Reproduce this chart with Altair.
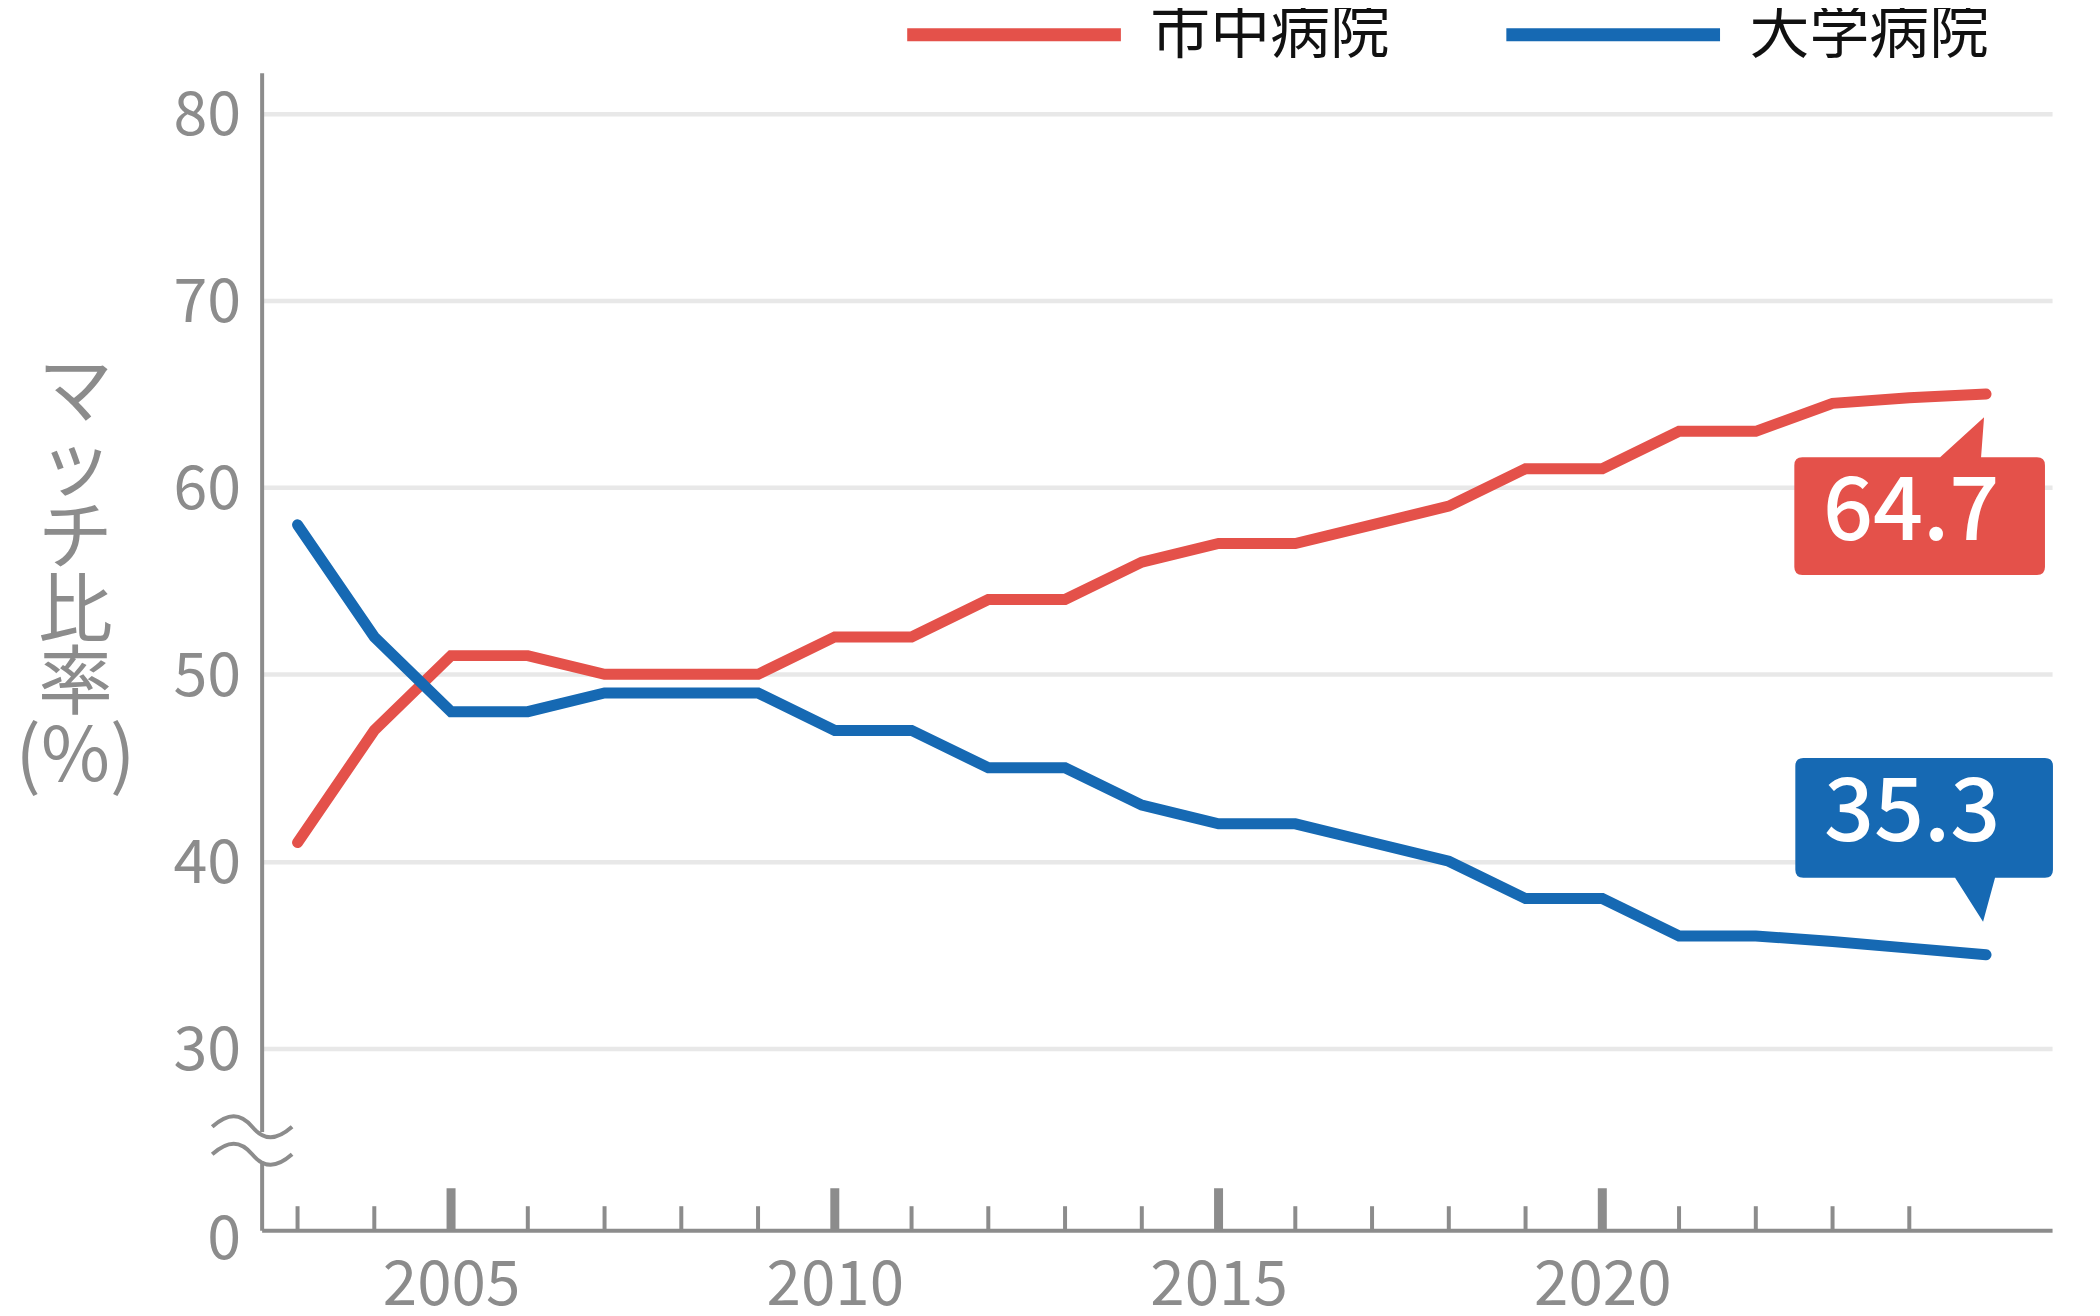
import altair as alt
import pandas as pd

# ---------------- data ----------------
years = list(range(2003, 2026))
city_hosp = [41, 47, 51, 51, 50, 50, 50, 52, 52, 54, 54, 56, 57, 57, 58, 59, 61, 61, 63, 63, 64.5, 64.8, 65.0]
univ_hosp = [58, 52, 48, 48, 49, 49, 49, 47, 47, 45, 45, 43, 42, 42, 41, 40, 38, 38, 36, 36, 35.7, 35.35, 35.0]
series_names = ["市中病院", "大学病院"]
series_colors = ["#e4514a", "#1669b3"]
callout_labels = ["64.7", "35.3"]
y_tick_values = [30, 40, 50, 60, 70, 80]
x_label_years = [2005, 2010, 2015, 2020]
tick_years = list(range(2003, 2025))
y_title_lines = ["マ", "ッ", "チ", "比", "率", "(%)"]

# scale extents (axis break: bottom of the axis stands for 0)
XMIN, XMAX = 2002.532, 2025.86
YMIN, YMAX = 20.26, 82.18
break_values = [25.79, 24.32]     # the two "≈" strokes on the y axis
gap_values = [25.50, 23.95]       # part of the axis line hidden between them

FONT = "Noto Sans CJK JP"
GRAY = "#8c8c8c"

# ---------------- tables ----------------
rows = []
for i, y in enumerate(years):
    rows.append({"year": y, "value": city_hosp[i], "series": series_names[0]})
    rows.append({"year": y, "value": univ_hosp[i], "series": series_names[1]})
df = pd.DataFrame(rows)

ticks_df = pd.DataFrame({"year": tick_years,
                         "major": [y % 5 == 0 for y in tick_years]})
end_df = pd.DataFrame({"year": [years[-1], years[-1]],
                       "value": [city_hosp[-1], univ_hosp[-1]],
                       "series": series_names,
                       "label": callout_labels})
break_df = pd.DataFrame({"v": break_values})

xs = alt.Scale(domain=[XMIN, XMAX], nice=False, zero=False)
ys = alt.Scale(domain=[YMIN, YMAX], nice=False, zero=False)

# ---------------- layers ----------------
base_axes = alt.Chart(df).mark_line(
    strokeWidth=11, strokeCap="round", strokeJoin="miter", clip=False
).encode(
    x=alt.X("year:Q", scale=xs,
            axis=alt.Axis(values=x_label_years, format="d", title=None,
                          ticks=False, grid=False, labelPadding=25,
                          labelFontSize=62, labelFlush=False)),
    y=alt.Y("value:Q", scale=ys,
            axis=alt.Axis(values=[YMIN] + y_tick_values, ticks=False,
                          labelExpr="datum.value < 25 ? '0' : datum.label",
                          labelPadding=21, labelFontSize=61,
                          labelOffset={"condition": {"test": "datum.value < 25", "value": 10}, "value": 3},
                          gridColor={"condition": {"test": "datum.value < 25", "value": "transparent"},
                                     "value": "#e8e8e8"},
                          gridWidth=4.5, grid=True,
                          title=y_title_lines, titleAngle=0, titleAlign="center",
                          titleBaseline="top", titleX=-187, titleY=285,
                          titleLineHeight=73, titleFontSize=75,
                          titleFontWeight="normal", titleColor=GRAY)),
    color=alt.Color("series:N",
                    scale=alt.Scale(domain=series_names, range=series_colors),
                    sort=series_names,
                    legend=alt.Legend(orient="none", legendX=640, legendY=-152,
                                      direction="horizontal", title=None,
                                      symbolType="stroke", symbolSize=214 ** 2,
                                      symbolStrokeWidth=13,
                                      labelFontSize=60, labelFont=FONT,
                                      labelColor="#111111", labelOffset=23,
                                      labelLimit=0,
                                      columnPadding=90, padding=0)),
    order=alt.Order("series:N", sort="descending"),
)

minor_ticks = alt.Chart(ticks_df).transform_filter("!datum.major").mark_tick(
    orient="vertical", size=24, thickness=4, yOffset=-12, color=GRAY, opacity=1
).encode(x=alt.X("year:Q", scale=xs), y=alt.datum(YMIN))

major_ticks = alt.Chart(ticks_df).transform_filter("datum.major").mark_tick(
    orient="vertical", size=42, thickness=9, yOffset=-21, color=GRAY, opacity=1
).encode(x=alt.X("year:Q", scale=xs), y=alt.datum(YMIN))

gap = alt.Chart(break_df).mark_rule(color="white", strokeWidth=9).encode(
    x=alt.datum(XMIN), y=alt.datum(gap_values[0]), y2=alt.datum(gap_values[1]))

tilde_path = "M-1,0 C-0.6,-0.35 -0.3,-0.35 0,0 S0.6,0.35 1,0"
breaks = alt.Chart(break_df).mark_point(
    shape=tilde_path, size=6400, filled=False, stroke=GRAY, strokeWidth=4,
    opacity=1, xOffset=-9.5, clip=False
).encode(x=alt.datum(XMIN), y=alt.Y("v:Q", scale=ys))

red_path = ("M-0.02,0.234 L-0.05,0.634 L0.51,0.634 Q0.59,0.634 0.59,0.714 "
            "L0.59,1.734 Q0.59,1.814 0.51,1.814 L-1.84,1.814 Q-1.92,1.814 -1.92,1.734 "
            "L-1.92,0.714 Q-1.92,0.634 -1.84,0.634 L-0.46,0.634 Z")
blue_path = ("M-0.03,-0.33 L0.09,-0.77 L0.59,-0.77 Q0.67,-0.77 0.67,-0.85 "
             "L0.67,-1.89 Q0.67,-1.97 0.59,-1.97 L-1.83,-1.97 Q-1.91,-1.97 -1.91,-1.89 "
             "L-1.91,-0.85 Q-1.91,-0.77 -1.83,-0.77 L-0.31,-0.77 Z")

def callout(idx, path, dx, dy):
    sub = alt.Chart(end_df).transform_filter(
        alt.datum.series == series_names[idx])
    box = sub.mark_point(shape=path, size=40000, filled=True,
                         fill=series_colors[idx], strokeWidth=0, opacity=1,
                         clip=False).encode(
        x=alt.X("year:Q", scale=xs), y=alt.Y("value:Q", scale=ys))
    txt = sub.mark_text(dx=dx, dy=dy, fontSize=88, font=FONT, color="white",
                        fontWeight=500, align="center", baseline="middle").encode(
        x=alt.X("year:Q", scale=xs), y=alt.Y("value:Q", scale=ys),
        text="label:N")
    return box + txt

chart = alt.layer(
    base_axes, minor_ticks, major_ticks, gap, breaks,
    callout(0, red_path, -75, 120),
    callout(1, blue_path, -74, -140),
).properties(
    width=1793, height=1159,
    autosize=alt.AutoSizeParams(type="none"),
    padding={"left": 254, "top": 64, "right": 40, "bottom": 86},
    background="white",
).configure_axis(
    labelFont=FONT, titleFont=FONT, labelColor=GRAY,
    domainColor=GRAY, domainWidth=4,
).configure_view(stroke=None)

chart.save("out.html", embed_options={"renderer": "svg", "actions": False})
